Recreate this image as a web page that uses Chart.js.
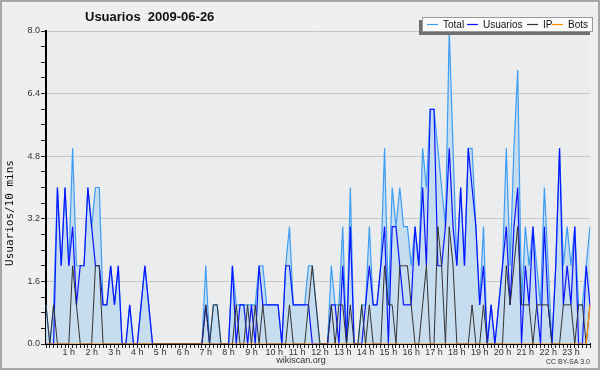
<!DOCTYPE html>
<html lang="es">
<head>
<meta charset="UTF-8">
<title>Usuarios 2009-06-26</title>
<script src="https://cdn.jsdelivr.net/npm/chart.js@4.4.1/dist/chart.umd.min.js"></script>
<style>
  html, body { margin: 0; padding: 0; background: #efefef; }
  #chart { display: block; }
</style>
</head>
<body>
<canvas id="chart" width="600" height="370"></canvas>
<script>
// textos
const chartTitle = 'Usuarios  2009-06-26';
const yAxisTitle = 'Usuarios/10 mins';
const xAxisTitle = 'wikiscan.org';
const licence = 'CC BY-SA 3.0';
const seriesNames = ['Total', 'Usuarios', 'IP', 'Bots'];
const hourLabels = ['1 h', '2 h', '3 h', '4 h', '5 h', '6 h', '7 h', '8 h', '9 h', '10 h', '11 h', '12 h',
                    '13 h', '14 h', '15 h', '16 h', '17 h', '18 h', '19 h', '20 h', '21 h', '22 h', '23 h'];
const yTickLabels = ['0.0', '1.6', '3.2', '4.8', '6.4', '8.0'];

// valores cada 10 minutos (144 por serie)
const users = [
  0, 0, 0, 4, 2, 4, 2, 3, 1, 2, 2, 4,
  3, 2, 2, 1, 1, 2, 1, 2, 0, 0, 1, 0,
  0, 1, 2, 1, 0, 0, 0, 0, 0, 0, 0, 0,
  0, 0, 0, 0, 0, 0, 1, 0, 0, 0, 0, 0,
  0, 2, 0, 1, 1, 0, 1, 0, 2, 1, 1, 1,
  1, 1, 0, 2, 2, 1, 1, 1, 1, 1, 0, 0,
  0, 0, 0, 1, 1, 0, 2, 0, 3, 0, 0, 0,
  1, 2, 1, 1, 2, 3, 0, 3, 3, 2, 1, 1,
  1, 3, 2, 4, 2, 6, 6, 2, 2, 3, 5, 3,
  2, 4, 2, 5, 4, 3, 1, 2, 0, 1, 0, 1,
  2, 3, 1, 3, 4, 0, 2, 1, 3, 1, 0, 3,
  1, 0, 2, 5, 1, 2, 1, 3, 0, 0, 2, 1
];
const ips = [
  1, 0, 1, 0, 0, 0, 0, 2, 1, 0, 0, 0,
  0, 2, 2, 0, 0, 0, 0, 0, 0, 0, 0, 0,
  0, 0, 0, 0, 0, 0, 0, 0, 0, 0, 0, 0,
  0, 0, 0, 0, 0, 0, 1, 0, 1, 1, 0, 0,
  0, 0, 1, 0, 0, 1, 0, 1, 0, 1, 0, 0,
  0, 0, 0, 0, 1, 0, 0, 0, 0, 1, 2, 1,
  0, 0, 0, 1, 0, 1, 1, 0, 1, 0, 0, 1,
  0, 1, 0, 0, 0, 2, 1, 1, 0, 2, 2, 2,
  1, 0, 0, 1, 2, 0, 0, 3, 2, 0, 3, 2,
  0, 0, 0, 0, 1, 0, 0, 1, 0, 0, 0, 0,
  0, 2, 1, 2, 3, 1, 1, 1, 0, 1, 1, 1,
  1, 0, 0, 0, 1, 1, 1, 0, 1, 1, 0, 1
];
const bots = [
  0, 0, 0, 0, 0, 0, 0, 0, 0, 0, 0, 0,
  0, 0, 0, 0, 0, 0, 0, 0, 0, 0, 0, 0,
  0, 0, 0, 0, 0, 0, 0, 0, 0, 0, 0, 0,
  0, 0, 0, 0, 0, 0, 0, 0, 0, 0, 0, 0,
  0, 0, 0, 0, 0, 0, 0, 0, 0, 0, 0, 0,
  0, 0, 0, 0, 0, 0, 0, 0, 0, 0, 0, 0,
  0, 0, 0, 0, 0, 0, 0, 0, 0, 0, 0, 0,
  0, 0, 0, 0, 0, 0, 0, 0, 0, 0, 0, 0,
  0, 0, 0, 0, 0, 0, 0, 0, 0, 0, 0, 0,
  0, 0, 0, 0, 0, 0, 0, 0, 0, 0, 0, 0,
  0, 0, 0, 0, 0, 0, 0, 0, 0, 0, 0, 0,
  0, 0, 0, 0, 0, 0, 0, 0, 0, 0, 0, 1
];
const total = [
  1, 0, 1, 4, 2, 4, 2, 5, 2, 2, 2, 4,
  3, 4, 4, 1, 1, 2, 1, 2, 0, 0, 1, 0,
  0, 1, 2, 1, 0, 0, 0, 0, 0, 0, 0, 0,
  0, 0, 0, 0, 0, 0, 2, 0, 1, 1, 0, 0,
  0, 2, 1, 1, 1, 1, 1, 1, 2, 2, 1, 1,
  1, 1, 0, 2, 3, 1, 1, 1, 1, 2, 2, 1,
  0, 0, 0, 2, 1, 1, 3, 0, 4, 0, 0, 1,
  1, 3, 1, 1, 2, 5, 1, 4, 3, 4, 3, 3,
  2, 3, 2, 5, 4, 6, 6, 5, 4, 3, 8, 5,
  2, 4, 2, 5, 5, 3, 1, 3, 0, 1, 0, 1,
  2, 5, 2, 5, 7, 1, 3, 2, 3, 2, 1, 4,
  2, 0, 2, 5, 2, 3, 2, 3, 1, 1, 2, 3
];

const slots = total.map((v, i) => i);
const colors = { total: '#3d9df3', fill: '#c6dcef', users: '#0a14ff', ip: '#333333', bots: '#ff8c00' };

function isMajor(v) {
    const k = Math.round(v / 1.6);
    return Math.abs(v - k * 1.6) < 1e-6 ? k : -1;
}

const decor = {
    id: 'decor',
    beforeDraw(chart) {
        const { ctx, chartArea: a } = chart;
        ctx.save();
        ctx.fillStyle = '#efefef';
        ctx.fillRect(0, 0, chart.width, chart.height);
        ctx.fillStyle = '#ebecee';
        ctx.fillRect(a.left, a.top, a.right - a.left, a.bottom - a.top);
        ctx.restore();
    },
    afterDraw(chart) {
        const ctx = chart.ctx;
        ctx.save();
        // titulo
        ctx.fillStyle = '#111';
        ctx.textAlign = 'left';
        ctx.textBaseline = 'alphabetic';
        ctx.font = 'bold 13px "Liberation Sans", Arial, sans-serif';
        ctx.fillText(chartTitle, 85, 21);

        // eje y
        ctx.save();
        ctx.translate(10, 213);
        ctx.rotate(-Math.PI / 2);
        ctx.font = '11px "DejaVu Sans Mono", monospace';
        ctx.textAlign = 'center';
        ctx.textBaseline = 'middle';
        ctx.fillText(yAxisTitle, 0, 0);
        ctx.restore();

        // pie
        ctx.fillStyle = '#333';
        ctx.textAlign = 'center';
        ctx.textBaseline = 'middle';
        ctx.font = '9px "Liberation Sans", Arial, sans-serif';
        ctx.fillText(xAxisTitle, 301, 361);
        ctx.textAlign = 'right';
        ctx.font = '7px "Liberation Sans", Arial, sans-serif';
        ctx.fillText(licence, 590, 362);

        // leyenda
        ctx.fillStyle = '#707070';
        ctx.fillRect(419, 20, 171, 15);
        ctx.fillStyle = '#fbfbfb';
        ctx.fillRect(422, 17, 171, 15);
        ctx.strokeStyle = '#999';
        ctx.lineWidth = 1;
        ctx.strokeRect(422.5, 17.5, 170, 14);
        const items = [
            { color: colors.total, x: 427 },
            { color: colors.users, x: 467 },
            { color: colors.ip, x: 527 },
            { color: colors.bots, x: 552 }
        ];
        ctx.font = '10px "Liberation Sans", Arial, sans-serif';
        ctx.textAlign = 'left';
        ctx.textBaseline = 'middle';
        items.forEach((it, i) => {
            ctx.strokeStyle = it.color;
            ctx.lineWidth = 1.2;
            ctx.beginPath();
            ctx.moveTo(it.x, 24.5);
            ctx.lineTo(it.x + 11, 24.5);
            ctx.stroke();
            ctx.fillStyle = '#111';
            ctx.fillText(seriesNames[i], it.x + 16, 25);
        });

        // marco
        ctx.strokeStyle = '#a6a6a6';
        ctx.lineWidth = 2;
        ctx.strokeRect(1, 1, chart.width - 2, chart.height - 2);
        ctx.restore();
    }
};

new Chart(document.getElementById('chart'), {
    type: 'line',
    data: {
        labels: slots,
        datasets: [
            { label: seriesNames[0], data: total, borderColor: colors.total, backgroundColor: colors.fill,
              fill: 'origin', borderWidth: 1.2, order: 4 },
            { label: seriesNames[1], data: users, borderColor: colors.users, borderWidth: 1.2, fill: false, order: 3 },
            { label: seriesNames[2], data: ips, borderColor: colors.ip, borderWidth: 1, fill: false, order: 2 },
            { label: seriesNames[3], data: bots, borderColor: colors.bots, borderWidth: 1.2, fill: false, order: 1 }
        ]
    },
    options: {
        responsive: false,
        animation: false,
        devicePixelRatio: 1,
        layout: { padding: { top: 31, right: 10, left: 0, bottom: 0 } },
        elements: { point: { radius: 0, hoverRadius: 0 }, line: { tension: 0 } },
        plugins: { legend: { display: false }, title: { display: false }, tooltip: { enabled: false } },
        scales: {
            x: {
                type: 'category',
                offset: false,
                z: 1,
                grid: { drawOnChartArea: false, drawTicks: true, tickLength: 4, color: '#222' },
                border: { display: true, color: '#000', width: 2 },
                ticks: {
                    autoSkip: false, maxRotation: 0, minRotation: 0, padding: -1,
                    color: '#333', font: { family: '"Liberation Sans", Arial, sans-serif', size: 9 },
                    callback: (v, i) => (i % 6 === 0 && i > 0) ? hourLabels[i / 6 - 1] : ''
                },
                afterFit(s) { s.height = 26; }
            },
            y: {
                min: 0,
                max: 8,
                z: 1,
                grid: {
                    drawTicks: true, tickLength: 5, tickColor: '#222',
                    color: ctx => isMajor(ctx.tick.value) > 0 ? '#c8c8c8' : 'rgba(0,0,0,0)'
                },
                border: { display: true, color: '#000', width: 2 },
                ticks: {
                    stepSize: 0.4, padding: 1, autoSkip: false,
                    color: '#333', font: { family: '"Liberation Sans", Arial, sans-serif', size: 9 },
                    callback: v => { const k = isMajor(v); return k >= 0 ? yTickLabels[k] : ''; }
                },
                afterFit(s) { s.width = 46; }
            }
        }
    },
    plugins: [decor]
});
</script>
</body>
</html>
